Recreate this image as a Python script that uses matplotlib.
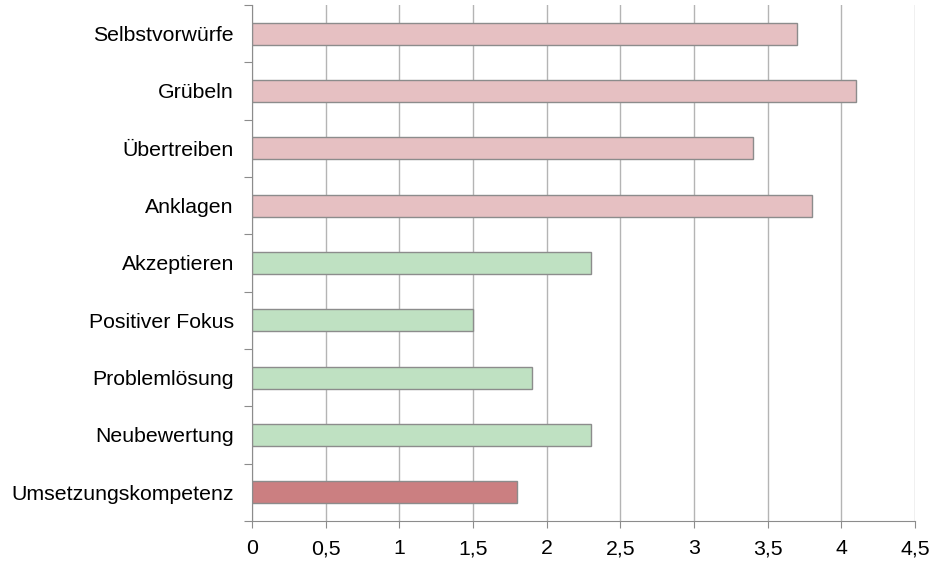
import matplotlib
matplotlib.use("Agg")
import matplotlib.pyplot as plt
from matplotlib.ticker import MultipleLocator, FuncFormatter

# Kategorien von oben nach unten
kategorien = ['Selbstvorwürfe', 'Grübeln', 'Übertreiben', 'Anklagen', 'Akzeptieren',
              'Positiver Fokus', 'Problemlösung', 'Neubewertung', 'Umsetzungskompetenz']
werte = [3.7, 4.1, 3.4, 3.8, 2.3, 1.5, 1.9, 2.3, 1.8]
gruppe = ['neg', 'neg', 'neg', 'neg', 'pos', 'pos', 'pos', 'pos', 'ums']
farben = {'neg': '#E6C0C2', 'pos': '#BFE1C2', 'ums': '#CB7F81'}

plt.rcParams['font.family'] = ['Liberation Sans', 'DejaVu Sans']

fig = plt.figure(figsize=(9.33, 5.62), dpi=100)
ax = fig.add_axes([252/933, 1-521/562, 663/933, 516/562])

n = len(kategorien)
pos = list(range(n))[::-1]
ax.barh(pos, werte, height=0.38, color=[farben[g] for g in gruppe],
        edgecolor='#8C8C8C', linewidth=1, zorder=3)

ax.set_xlim(0, 4.5)
ax.set_ylim(-0.5, n - 0.5)
ax.xaxis.set_major_locator(MultipleLocator(0.5))
ax.xaxis.set_major_formatter(FuncFormatter(lambda v, p: ('%g' % v).replace('.', ',')))
ax.grid(axis='x', color='#B4B4B4', linewidth=1, zorder=0)

# Striche zwischen den Kategorien, Beschriftungen in der Mitte
ax.set_yticks([p + 0.5 for p in range(-1, n)])
ax.set_yticklabels([])
ax.set_yticks(pos, labels=kategorien, minor=True)
ax.tick_params(axis='y', which='major', length=6, color='#8C8C8C', direction='out')
ax.tick_params(axis='y', which='minor', length=0, pad=13, labelsize=15.3)
ax.tick_params(axis='x', length=5, color='#8C8C8C', labelsize=15.3, pad=8)

for s in ['top', 'right']:
    ax.spines[s].set_visible(False)
for s in ['left', 'bottom']:
    ax.spines[s].set_color('#8C8C8C')
    ax.spines[s].set_zorder(4)

fig.savefig('out.png', dpi=100)
